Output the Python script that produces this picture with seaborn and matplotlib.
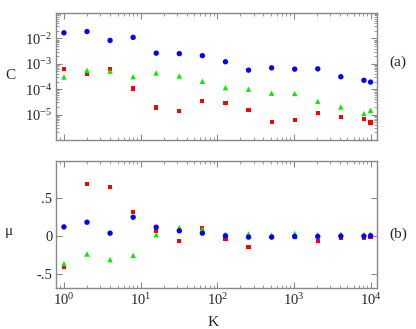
import numpy as np
import pandas as pd
import matplotlib
matplotlib.use("Agg")
import matplotlib.pyplot as plt
import matplotlib.ticker as mticker
import seaborn as sns

K = [1, 2, 4, 8, 16, 32, 64, 128, 256, 512, 1024, 2048, 4096, 8192, 10000]

# log10 of C values
logC_blue = [-1.78, -1.73, -2.08, -1.96, -2.58, -2.60, -2.68, -2.92, -3.25, -3.16, -3.21, -3.20, -3.51, -3.65, -3.72]
logC_green = [-3.52, -3.26, -3.29, -3.51, -3.36, -3.48, -3.69, -3.94, -4.00, -4.16, -4.17, -4.48, -4.70, -4.96, -4.83]
logC_red = [-3.19, -3.40, -3.22, -3.97, -4.72, -4.85, -4.45, -4.53, -4.81, -5.30, -5.20, -4.93, -5.09, -5.17, -5.31]

mu_blue = [0.122, 0.184, 0.039, 0.25, 0.118, 0.07, 0.04, 0.004, -0.013, -0.013, -0.005, -0.005, 0.0, 0.0, 0.005]
mu_green = [-0.365, -0.237, -0.31, -0.255, 0.02, 0.113, 0.096, 0.02, 0.03, 0.015, 0.035, 0.02, 0.025, 0.02, 0.025]
mu_red = [-0.41, 0.69, 0.645, 0.32, 0.075, -0.07, 0.105, -0.035, -0.14, -0.01, -0.01, -0.06, -0.03, -0.02, -0.01]

sns.set_style("ticks")
plt.rcParams['font.family'] = ['Liberation Serif', 'DejaVu Serif']
plt.rcParams['mathtext.fontset'] = 'custom'
plt.rcParams['mathtext.rm'] = 'Liberation Serif'
plt.rcParams['mathtext.it'] = 'Liberation Serif:italic'

fig = plt.figure(figsize=(4.16, 3.29), dpi=100)
ax1 = fig.add_axes([0.1358, 0.5745, 0.906 - 0.1358, 0.9605 - 0.5745])
ax2 = fig.add_axes([0.1358, 0.1261, 0.906 - 0.1358, 0.512 - 0.1261])

series = [
    ("red", logC_red, mu_red, "s", 9, "#ff0000"),
    ("green", logC_green, mu_green, "^", 15, "#00ee00"),
    ("blue", logC_blue, mu_blue, "o", 15, "#0000ff"),
]

for name, lc, mu, mk, sz, col in series:
    df = pd.DataFrame({"K": K, "C": 10.0 ** np.array(lc), "mu": mu})
    sns.scatterplot(data=df, x="K", y="C", ax=ax1, marker=mk, s=sz, color=col,
                    edgecolor="none", linewidth=0)
    sns.scatterplot(data=df, x="K", y="mu", ax=ax2, marker=mk, s=sz, color=col,
                    edgecolor="none", linewidth=0)

spine_col = "#888888"
for ax in (ax1, ax2):
    ax.set_xscale("log")
    ax.set_xlim(0.8, 12100)
    ax.set_xlabel("")
    ax.set_ylabel("")
    for s in ax.spines.values():
        s.set_visible(True)
        s.set_color(spine_col)
        s.set_linewidth(1.0)
    ax.tick_params(which="both", direction="in", top=True, right=True,
                   color=spine_col, labelsize=10.5, pad=3)
    ax.tick_params(which="major", length=4)
    ax.tick_params(which="minor", length=2)
    ax.xaxis.set_major_locator(mticker.FixedLocator([1, 10, 100, 1000, 10000]))
    ax.xaxis.set_minor_locator(mticker.LogLocator(base=10, subs=np.arange(2, 10), numticks=20))

ax1.set_yscale("log")
ax1.set_ylim(1e-6, 1e-1)
ax1.yaxis.set_major_locator(mticker.FixedLocator([1e-5, 1e-4, 1e-3, 1e-2]))
ax1.yaxis.set_major_formatter(mticker.FixedFormatter([r"$10^{-5}$", r"$10^{-4}$", r"$10^{-3}$", r"$10^{-2}$"]))
ax1.yaxis.set_minor_locator(mticker.LogLocator(base=10, subs=np.arange(2, 10), numticks=20))
ax1.yaxis.set_minor_formatter(mticker.NullFormatter())
ax1.tick_params(axis="x", labelbottom=False)

ax2.set_ylim(-0.68, 1.0)
ax2.yaxis.set_major_locator(mticker.FixedLocator([-0.5, 0, 0.5]))
ax2.yaxis.set_major_formatter(mticker.FixedFormatter(["-.5", "0", ".5"]))
ax2.yaxis.set_minor_locator(mticker.NullLocator())
ax2.xaxis.set_major_formatter(mticker.FixedFormatter([r"$10^{0}$", r"$10^{1}$", r"$10^{2}$", r"$10^{3}$", r"$10^{4}$"]))
ax2.xaxis.set_minor_formatter(mticker.NullFormatter())

fig.text(5 / 416, 1 - 75 / 329, "C", fontsize=11, ha="left", va="center")
fig.text(5 / 416, 1 - 232 / 329, "μ", fontsize=11, ha="left", va="center")
fig.text(213 / 416, 1 - 322 / 329, "K", fontsize=11, ha="center", va="center")
fig.text(389 / 416, 1 - 62 / 329, "(a)", fontsize=11, ha="left", va="center")
fig.text(389 / 416, 1 - 234 / 329, "(b)", fontsize=11, ha="left", va="center")

fig.savefig("out.png", dpi=100)
